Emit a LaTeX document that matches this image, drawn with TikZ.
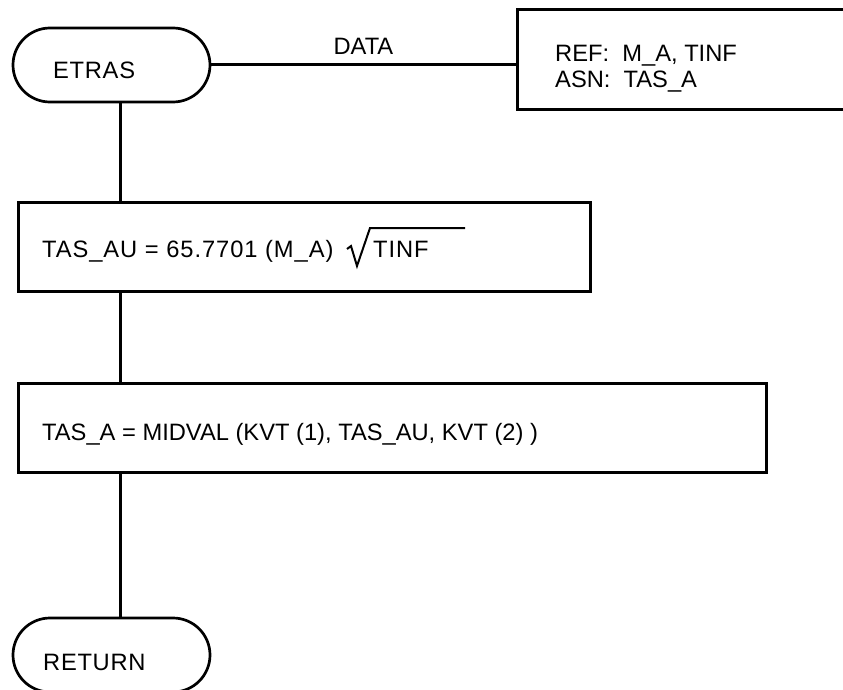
\documentclass[tikz,border=0pt]{standalone}
\usepackage{fontspec}
\setmainfont{Liberation Sans}
\usetikzlibrary{shapes.misc}
\tikzset{
  terminal/.style={draw, rounded rectangle, minimum width=197pt, minimum height=74pt, line width=2.7pt, inner sep=0pt},
  procbox/.style={draw, rectangle, line width=3pt, inner sep=0pt},
  flow/.style={line width=3pt},
  txt/.style={anchor=base west, inner sep=0pt, font=\fontsize{23.7}{28}\selectfont}
}
\begin{document}
\begin{tikzpicture}[x=1pt,y=-1pt]
          \useasboundingbox (0,0) rectangle (843,690);
          \coordinate (spine) at (120,0);
          % terminals
          \node[terminal] (etras) at (111.5,65) {};
          \node[terminal] (ret) at (111.5,655) {};
          \node[txt] (etraslbl) at (53,79) {\addfontfeature{LetterSpace=3}ETRAS};
          \node[txt] (retlbl) at (43,670) {\addfontfeature{LetterSpace=3}RETURN};
          % data box
          \node[procbox, minimum width=333pt, minimum height=100pt] (databox) at (683.5,60) {};
          \node[txt] (reflbl) at (555,62) {REF:\ \ M\_A, TINF};
          \node[txt] (asnlbl) at (555,88) {ASN:\ \ TAS\_A};
          \draw[flow] (etras.east) -- node[txt, anchor=base, yshift=10pt] (datalbl) {DATA} (etras.east -| databox.west);
          % process boxes
          \node[procbox, minimum width=572pt, minimum height=89pt] (calc1) at (304,246.5) {};
          \node[txt] (calc1lbl) at (42,257) {\addfontfeature{LetterSpace=4}TAS\_AU = 65.7701 (M\_A)};
          \node[txt] (tinf) at (373,257) {\addfontfeature{LetterSpace=4}TINF};
          \draw[line width=2pt, line join=miter] (347,249) -- (351,246) -- (357,266) -- (370,228) -- (465,228);
          \node[procbox, minimum width=748pt, minimum height=89pt] (calc2) at (392,427.5) {};
          \node[txt] (calc2lbl) at (42,440) {TAS\_A = MIDVAL (KVT (1), TAS\_AU, KVT (2) )};
          % flow lines
          \draw[flow] (etras.south -| spine) -- (calc1.north -| spine);
          \draw[flow] (calc1.south -| spine) -- (calc2.north -| spine);
          \draw[flow] (calc2.south -| spine) -- (ret.north -| spine);
        \end{tikzpicture}
\end{document}
